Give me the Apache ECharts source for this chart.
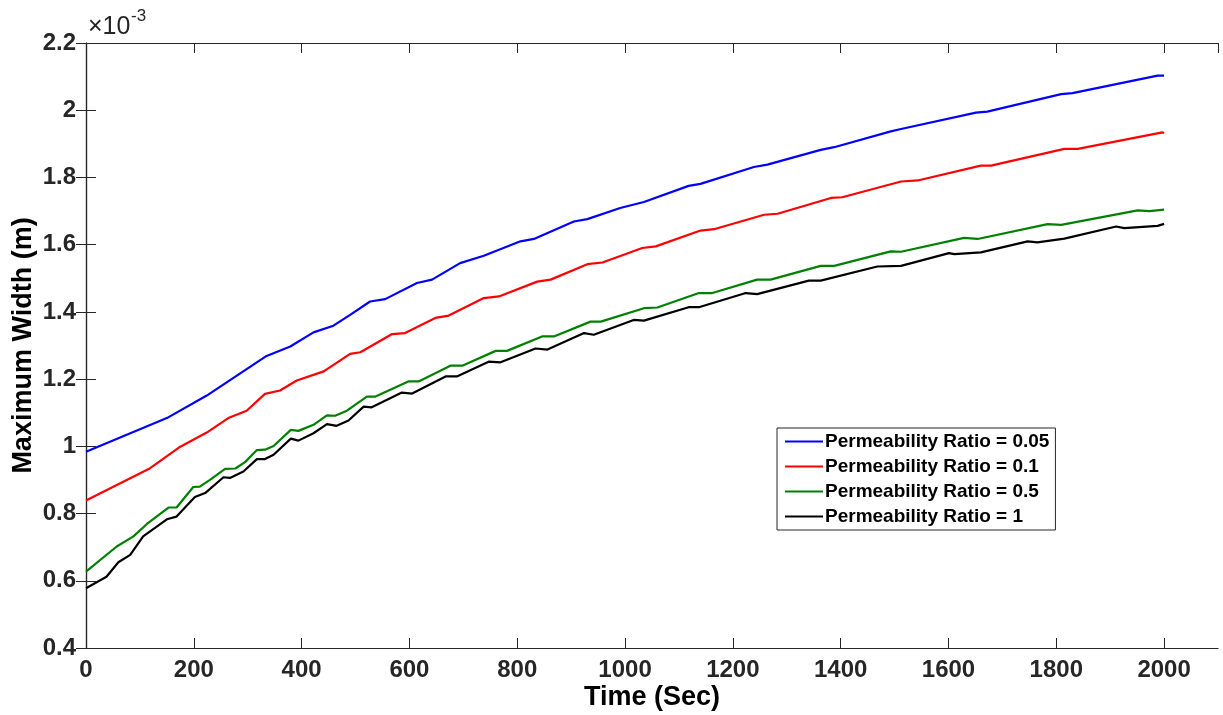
<!DOCTYPE html>
<html>
<head>
<meta charset="utf-8">
<title>Maximum Width vs Time</title>
<script src="https://cdn.jsdelivr.net/npm/echarts@6/dist/echarts.min.js"></script>
<style>
  html, body { margin: 0; padding: 0; background: #ffffff; }
  #chart { width: 1223px; height: 715px; }
</style>
</head>
<body>
<div id="chart"></div>
<script>
// Maximum width (×10^-3 m) against time (s) for four permeability ratios.
const seriesNames = [
  'Permeability Ratio = 0.05',
  'Permeability Ratio = 0.1',
  'Permeability Ratio = 0.5',
  'Permeability Ratio = 1'
];
const seriesColors = ['#0000ff', '#ff0000', '#008000', '#000000'];

const timeA = [0, 150, 224, 335, 379, 422, 459, 490, 527, 555, 614, 642, 694, 738, 806, 831, 905, 930, 991, 1035, 1118, 1140, 1239, 1264, 1363, 1388, 1493, 1512, 1651, 1672, 1809, 1830, 1988, 2000];
const widthA = [0.984, 1.084, 1.151, 1.269, 1.297, 1.339, 1.359, 1.391, 1.431, 1.438, 1.486, 1.496, 1.545, 1.567, 1.610, 1.617, 1.669, 1.676, 1.709, 1.727, 1.775, 1.781, 1.831, 1.838, 1.882, 1.890, 1.937, 1.944, 1.993, 1.996, 2.048, 2.051, 2.103, 2.103];

const timeB = [0, 119, 175, 224, 264, 298, 332, 360, 391, 441, 490, 509, 568, 592, 648, 673, 738, 766, 837, 862, 930, 958, 1032, 1057, 1140, 1165, 1258, 1283, 1382, 1403, 1512, 1543, 1660, 1679, 1815, 1840, 1997, 2000];
const widthB = [0.839, 0.935, 0.999, 1.041, 1.084, 1.106, 1.156, 1.166, 1.196, 1.223, 1.275, 1.280, 1.334, 1.337, 1.382, 1.389, 1.441, 1.446, 1.490, 1.496, 1.542, 1.547, 1.590, 1.595, 1.642, 1.646, 1.689, 1.692, 1.739, 1.741, 1.788, 1.791, 1.835, 1.835, 1.885, 1.885, 1.934, 1.932];

const timeC = [0, 57, 88, 113, 153, 168, 199, 211, 230, 258, 277, 295, 317, 332, 348, 380, 394, 422, 447, 462, 484, 521, 537, 598, 617, 676, 698, 760, 781, 846, 868, 936, 955, 1035, 1060, 1137, 1162, 1245, 1270, 1363, 1388, 1493, 1512, 1629, 1654, 1784, 1809, 1951, 1973, 2000];
const widthC = [0.627, 0.702, 0.732, 0.769, 0.818, 0.818, 0.879, 0.880, 0.900, 0.933, 0.934, 0.953, 0.989, 0.990, 1.001, 1.049, 1.046, 1.064, 1.092, 1.091, 1.106, 1.148, 1.148, 1.193, 1.193, 1.240, 1.240, 1.284, 1.284, 1.327, 1.327, 1.371, 1.371, 1.411, 1.413, 1.456, 1.456, 1.496, 1.496, 1.537, 1.537, 1.580, 1.579, 1.620, 1.617, 1.661, 1.659, 1.702, 1.700, 1.704];

const timeD = [0, 38, 60, 82, 106, 150, 168, 202, 221, 255, 267, 292, 317, 332, 348, 380, 394, 422, 447, 465, 487, 515, 530, 586, 605, 667, 688, 747, 769, 834, 856, 924, 942, 1016, 1035, 1118, 1137, 1224, 1245, 1341, 1363, 1468, 1512, 1601, 1611, 1660, 1747, 1765, 1815, 1911, 1926, 1988, 2000];
const widthD = [0.578, 0.612, 0.655, 0.677, 0.732, 0.783, 0.791, 0.849, 0.861, 0.908, 0.906, 0.925, 0.962, 0.962, 0.975, 1.023, 1.017, 1.039, 1.066, 1.061, 1.077, 1.118, 1.116, 1.160, 1.157, 1.208, 1.208, 1.252, 1.250, 1.291, 1.288, 1.337, 1.332, 1.376, 1.374, 1.414, 1.414, 1.456, 1.453, 1.493, 1.493, 1.535, 1.537, 1.575, 1.572, 1.577, 1.610, 1.607, 1.618, 1.654, 1.649, 1.656, 1.662];

const seriesTimes = [timeA, timeB, timeC, timeD];
const seriesWidths = [widthA, widthB, widthC, widthD];

const FONT = '"Liberation Sans", Arial, Helvetica, sans-serif';
const AXIS_COLOR = '#262626';

const chart = echarts.init(document.getElementById('chart'), null, { renderer: 'canvas' });

const zip = (xs, ys) => xs.map((x, i) => [x, ys[i]]);

const tickStyle = {
  show: true,
  inside: true,
  length: 10,
  lineStyle: { color: AXIS_COLOR, width: 1 }
};
const lineStyle = { show: true, lineStyle: { color: AXIS_COLOR, width: 1.2 } };

const option = {
  animation: false,
  backgroundColor: '#ffffff',
  grid: { left: 86, right: 5, top: 43, bottom: 67, containLabel: false, outerBoundsMode: 'none' },
  xAxis: [
    {
      type: 'value', min: 0, max: 2100, interval: 200,
      position: 'bottom',
      name: 'Time (Sec)', nameLocation: 'middle', nameGap: 36, nameMoveOverlap: false,
      nameTextStyle: { fontFamily: FONT, fontWeight: 'bold', fontSize: 27, color: '#000' },
      axisLine: lineStyle, axisTick: tickStyle,
      axisLabel: {
        fontFamily: FONT, fontWeight: 'bold', fontSize: 24, color: AXIS_COLOR, margin: 10,
        showMaxLabel: false,
        formatter: (v) => String(v)
      },
      splitLine: { show: false }
    },
    {
      type: 'value', min: 0, max: 2100, interval: 200,
      position: 'top',
      axisLine: lineStyle, axisTick: tickStyle,
      axisLabel: { show: false }, splitLine: { show: false }
    }
  ],
  yAxis: [
    {
      type: 'value', min: 0.4, max: 2.2, interval: 0.2,
      position: 'left',
      name: 'Maximum Width (m)', nameLocation: 'middle', nameGap: 49, nameRotate: 90, nameMoveOverlap: false,
      nameTextStyle: { fontFamily: FONT, fontWeight: 'bold', fontSize: 27, color: '#000' },
      axisLine: lineStyle, axisTick: tickStyle,
      axisLabel: {
        fontFamily: FONT, fontWeight: 'bold', fontSize: 24, color: AXIS_COLOR, margin: 10,
        formatter: (v) => String(Math.round(v * 10) / 10)
      },
      splitLine: { show: false }
    },
    {
      type: 'value', min: 0.4, max: 2.2, interval: 0.2,
      position: 'right',
      axisLine: lineStyle, axisTick: tickStyle,
      axisLabel: { show: false }, splitLine: { show: false }
    }
  ],
  legend: {
    orient: 'vertical',
    left: 777, top: 428,
    padding: [4, 6, 4, 8],
    itemGap: 6,
    itemWidth: 38,
    itemHeight: 2,
    icon: 'rect',
    borderColor: '#262626',
    borderWidth: 1,
    borderRadius: 0,
    backgroundColor: '#ffffff',
    textStyle: { fontFamily: FONT, fontWeight: 'bold', fontSize: 19, color: '#000', lineHeight: 19, padding: [0, 0, 0, -3] },
    data: seriesNames
  },
  graphic: [
    // axis exponent: ×10 with a raised -3
    {
      type: 'text', left: 88, top: 15,
      style: { text: '×10', fontFamily: FONT, fontSize: 25, fill: AXIS_COLOR }
    },
    {
      type: 'text', left: 131, top: 8,
      style: { text: '-3', fontFamily: FONT, fontSize: 17, fill: AXIS_COLOR }
    }
  ],
  series: seriesNames.map((name, i) => ({
    name,
    type: 'line',
    xAxisIndex: 0,
    yAxisIndex: 0,
    data: zip(seriesTimes[i], seriesWidths[i]),
    symbol: 'none',
    smooth: false,
    color: seriesColors[i],
    itemStyle: { color: seriesColors[i] },
    lineStyle: { color: seriesColors[i], width: 2.2 },
    z: 10 - i
  }))
};

chart.setOption(option);
</script>
</body>
</html>
